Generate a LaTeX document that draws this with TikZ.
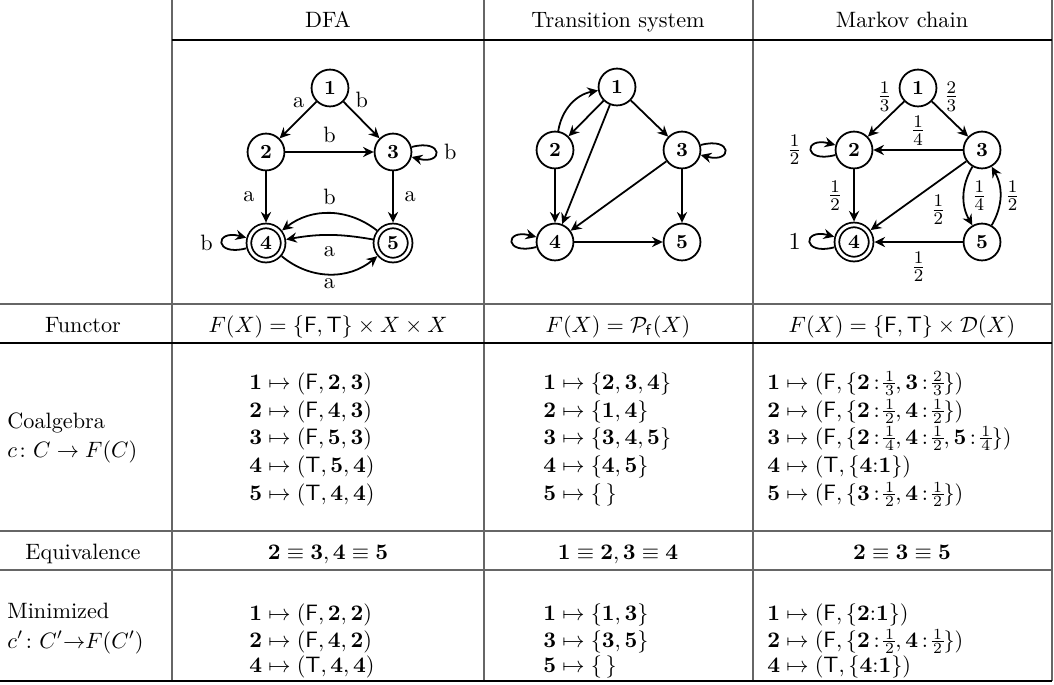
\documentclass[tikz,border=0pt]{standalone}
\usepackage{amsmath,amssymb}
\usetikzlibrary{arrows.meta}
\newcommand\Fs{\mathsf{F}}
\newcommand\Ts{\mathsf{T}}
\newcommand\bb[1]{\mathbf{#1}}
% compact stacked fraction for the table entries
\newcommand\fr[2]{\vcenter{\offinterlineskip\halign{\hfil\kern0.7pt##\kern0.7pt\hfil\cr
  $\scriptstyle#1$\cr\noalign{\kern0.7pt\hrule height0.4pt\kern0.7pt}$\scriptstyle#2$\cr}}}
\newcommand\wt[2]{\mathbf{#1}\,{:}\,#2}
\begin{document}
\begin{tikzpicture}[x=0.45pt,y=0.45pt,
  st/.style={circle,draw,line width=0.8pt,minimum size=16.6pt,inner sep=0pt,font=\small\bfseries},
  acc/.style={st,minimum size=15.4pt,double,double distance=1.3pt,outer sep=1.5pt},
  ed/.style={line width=0.8pt,-{Stealth[length=4.8pt,width=4.6pt,inset=1.6pt]}},
  lbl/.style={inner sep=1.8pt},
  frc/.style={inner sep=1.8pt,font=\fontsize{11}{13}\selectfont},
  every loop/.style={min distance=15pt,looseness=8},
  rl/.style={line width=0.5pt,black!60},
  rk/.style={line width=0.5pt,black},
  txt/.style={inner sep=0pt,anchor=base},
  row/.style={inner sep=0pt,anchor=base west},
]
\useasboundingbox (0,0) rectangle (1054,-684);

% table rules
\draw[rl] (172,0) -- (172,-681);
\draw[rl] (484,0) -- (484,-681);
\draw[rl] (753,0) -- (753,-681);
\draw[rl] (1052,0) -- (1052,-681);
\draw[rk] (172,-40) -- (1052,-40);
\draw[rl] (0,-304) -- (1052,-304);
\draw[rk] (0,-343) -- (1052,-343);
\draw[rl] (0,-531) -- (1052,-531);
\draw[rl] (0,-570) -- (1052,-570);
\draw[line width=0.9pt] (0,-681) -- (1052,-681);

% column heads
\node[txt] (hA) at (328,-27) {DFA};
\node[txt] (hB) at (618,-27) {Transition system};
\node[txt] (hC) at (902,-27) {Markov chain};

% DFA
\node[st] (d1) at (330,-88) {1};
\node[st] (d2) at (266,-152) {2};
\node[st] (d3) at (393,-152) {3};
\node[acc] (d4) at (266,-243) {4};
\node[acc] (d5) at (393,-243) {5};
\draw[ed] (d1) -- node[lbl,pos=0.2,above left,yshift=-1.5pt]{a} (d2);
\draw[ed] (d1) -- node[lbl,pos=0.2,above right,yshift=-1.5pt]{b} (d3);
\draw[ed] (d2) -- node[lbl,above=1.8pt]{b} (d3);
\path[ed] (d3) edge[loop right] node[lbl,right=1.5pt]{b} ();
\draw[ed] (d2) -- node[lbl,left=3pt]{a} (d4);
\draw[ed] (d3) -- node[lbl,right=3pt]{a} (d5);
\draw[ed] (d5) to[bend right=38] node[lbl,above=1.5pt]{b} (d4);
\draw[ed] (d5) to[bend right=10] node[lbl,below=3pt]{a} (d4);
\draw[ed] (d4) to[bend right=40] node[lbl,below]{a} (d5);
\path[ed] (d4) edge[loop left] node[lbl,left=2pt]{b} ();

% transition system
\node[st] (t1) at (617,-87) {1};
\node[st] (t2) at (555,-150) {2};
\node[st] (t3) at (682,-150) {3};
\node[st] (t4) at (555,-242) {4};
\node[st] (t5) at (682,-242) {5};
\draw[ed] (t1) -- (t2);
\draw[ed] (t2) to[bend left=35] (t1);
\draw[ed] (t1) -- (t4);
\draw[ed] (t1) -- (t3);
\path[ed] (t3) edge[loop right] ();
\draw[ed] (t2) -- (t4);
\draw[ed] (t3) -- (t4);
\draw[ed] (t3) -- (t5);
\path[ed] (t4) edge[loop left] ();
\draw[ed] (t4) -- (t5);

% Markov chain
\node[st] (m1) at (918,-88) {1};
\node[st] (m2) at (854,-150) {2};
\node[st] (m3) at (982,-150) {3};
\node[acc] (m4) at (854,-242) {4};
\node[st] (m5) at (982,-242) {5};
\draw[ed] (m1) -- node[frc,pos=0.2,above left,yshift=-3.5pt]{$\frac13$} (m2);
\draw[ed] (m1) -- node[frc,pos=0.2,above right,yshift=-3.5pt]{$\frac23$} (m3);
\draw[ed] (m3) -- node[frc,above]{$\frac14$} (m2);
\path[ed] (m2) edge[loop left] node[frc,left=2pt]{$\frac12$} ();
\draw[ed] (m2) -- node[frc,left=3pt]{$\frac12$} (m4);
\draw[ed] (m3) -- node[frc,pos=0.42,below right]{$\frac12$} (m4);
\draw[ed] (m3) to[bend right=30] node[frc,right=1.5pt]{$\frac14$} (m5);
\draw[ed] (m5) to[bend right=30] node[frc,right=0pt]{$\frac12$} (m3);
\draw[ed] (m5) -- node[frc,below=2.5pt]{$\frac12$} (m4);
\path[ed] (m4) edge[loop left] node[frc,left=2pt]{$1$} ();

% functor row
\node[txt] (fL) at (83,-332) {Functor};
\node[txt] (fA) at (328,-332) {$F(X) = \{\Fs,\Ts\}\times X\times X$};
\node[txt] (fB) at (618,-332) {$F(X) = \mathcal{P}_{\mathsf{f}}(X)$};
\node[txt] (fC) at (902,-332) {$F(X) = \{\Fs,\Ts\}\times \mathcal{D}(X)$};

% coalgebra row
\node[row] (cL1) at (7,-428) {Coalgebra};
\node[row] (cL2) at (7,-457) {$c\colon C\to F(C)$};

\node[row] (cA1) at (249,-389) {$\bb1\mapsto(\Fs,\bb2,\bb3)$};
\node[row] (cA2) at (249,-417) {$\bb2\mapsto(\Fs,\bb4,\bb3)$};
\node[row] (cA3) at (249,-444) {$\bb3\mapsto(\Fs,\bb5,\bb3)$};
\node[row] (cA4) at (249,-472) {$\bb4\mapsto(\Ts,\bb5,\bb4)$};
\node[row] (cA5) at (249,-500) {$\bb5\mapsto(\Ts,\bb4,\bb4)$};

\node[row] (cB1) at (543,-389) {$\bb1\mapsto\{\bb2,\bb3,\bb4\}$};
\node[row] (cB2) at (543,-417) {$\bb2\mapsto\{\bb1,\bb4\}$};
\node[row] (cB3) at (543,-444) {$\bb3\mapsto\{\bb3,\bb4,\bb5\}$};
\node[row] (cB4) at (543,-472) {$\bb4\mapsto\{\bb4,\bb5\}$};
\node[row] (cB5) at (543,-500) {$\bb5\mapsto\{\,\}$};

\node[row] (cC1) at (767,-389) {$\bb1\mapsto(\Fs,\{\wt2{\fr13},\wt3{\fr23}\})$};
\node[row] (cC2) at (767,-417) {$\bb2\mapsto(\Fs,\{\wt2{\fr12},\wt4{\fr12}\})$};
\node[row] (cC3) at (767,-444) {$\bb3\mapsto(\Fs,\{\wt2{\fr14},\wt4{\fr12},\wt5{\fr14}\})$};
\node[row] (cC4) at (767,-472) {$\bb4\mapsto(\Ts,\{\bb4{:}\bb1\})$};
\node[row] (cC5) at (767,-500) {$\bb5\mapsto(\Fs,\{\wt3{\fr12},\wt4{\fr12}\})$};

% equivalence row
\node[txt] (eL) at (83,-559) {Equivalence};
\node[txt] (eA) at (328,-559) {$\bb2\equiv\bb3,\bb4\equiv\bb5$};
\node[txt] (eB) at (618,-559) {$\bb1\equiv\bb2,\bb3\equiv\bb4$};
\node[txt] (eC) at (902,-559) {$\bb2\equiv\bb3\equiv\bb5$};

% minimized row
\node[row] (nL1) at (7,-618) {Minimized};
\node[row] (nL2) at (7,-648) {$c'\colon C'{\to}F(C')$};

\node[row] (nA1) at (249,-620) {$\bb1\mapsto(\Fs,\bb2,\bb2)$};
\node[row] (nA2) at (249,-647) {$\bb2\mapsto(\Fs,\bb4,\bb2)$};
\node[row] (nA3) at (249,-672) {$\bb4\mapsto(\Ts,\bb4,\bb4)$};

\node[row] (nB1) at (543,-620) {$\bb1\mapsto\{\bb1,\bb3\}$};
\node[row] (nB2) at (543,-647) {$\bb3\mapsto\{\bb3,\bb5\}$};
\node[row] (nB3) at (543,-672) {$\bb5\mapsto\{\,\}$};

\node[row] (nC1) at (767,-620) {$\bb1\mapsto(\Fs,\{\bb2{:}\bb1\})$};
\node[row] (nC2) at (767,-647) {$\bb2\mapsto(\Fs,\{\wt2{\fr12},\wt4{\fr12}\})$};
\node[row] (nC3) at (767,-672) {$\bb4\mapsto(\Ts,\{\bb4{:}\bb1\})$};
\end{tikzpicture}
\end{document}
